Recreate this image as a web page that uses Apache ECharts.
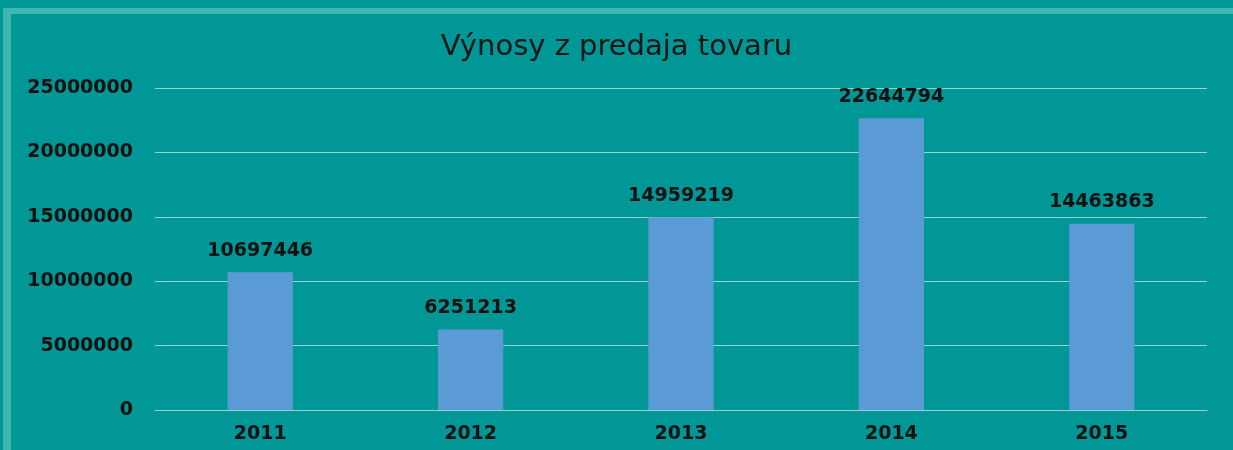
<!DOCTYPE html>
<html>
<head>
<meta charset="utf-8">
<script src="https://cdn.jsdelivr.net/npm/echarts@6/dist/echarts.min.js"></script>
<style>
  html, body { margin: 0; padding: 0; background: #019797; }
  #chart { width: 1233px; height: 450px; }
</style>
</head>
<body>
<div id="chart"></div>
<script>
var years = ['2011', '2012', '2013', '2014', '2015'];
var revenue = [10697446, 6251213, 14959219, 22644794, 14463863];
var chartTitle = 'Výnosy z predaja tovaru';

var myChart = echarts.init(document.getElementById('chart'));
var option = {
    backgroundColor: '#019797',
    title: {
        text: chartTitle,
        left: 'center',
        top: 28,
        textStyle: {
            color: '#151515',
            fontFamily: 'DejaVu Sans',
            fontWeight: 'normal',
            fontSize: 29
        }
    },
    graphic: [
        { type: 'rect', shape: { x: 3, y: 8, width: 1230, height: 6 }, style: { fill: '#40b6b0' } },
        { type: 'rect', shape: { x: 3, y: 8, width: 8, height: 442 }, style: { fill: '#40b6b0' } }
    ],
    grid: {
        left: 155,
        right: 26,
        top: 88,
        bottom: 40
    },
    xAxis: {
        type: 'category',
        data: years,
        axisTick: { show: false },
        axisLine: { lineStyle: { color: '#9cd0cc', width: 1 } },
        axisLabel: {
            color: '#111',
            fontFamily: 'DejaVu Sans',
            fontWeight: 'bold',
            fontSize: 19,
            margin: 15
        }
    },
    yAxis: {
        type: 'value',
        min: 0,
        max: 25000000,
        interval: 5000000,
        axisLine: { show: false },
        axisTick: { show: false },
        splitLine: { lineStyle: { color: '#9cd0cc', width: 1 } },
        axisLabel: {
            color: '#111',
            fontFamily: 'DejaVu Sans',
            fontWeight: 'bold',
            fontSize: 19,
            margin: 22,
            formatter: function (v) { return String(v); }
        }
    },
    series: [{
        type: 'bar',
        data: revenue,
        barWidth: '31%',
        itemStyle: { color: '#5b9bd5' },
        label: {
            show: true,
            position: 'top',
            distance: 12,
            color: '#111',
            fontFamily: 'DejaVu Sans',
            fontWeight: 'bold',
            fontSize: 19
        }
    }]
};
myChart.setOption(option, true);
</script>
</body>
</html>
